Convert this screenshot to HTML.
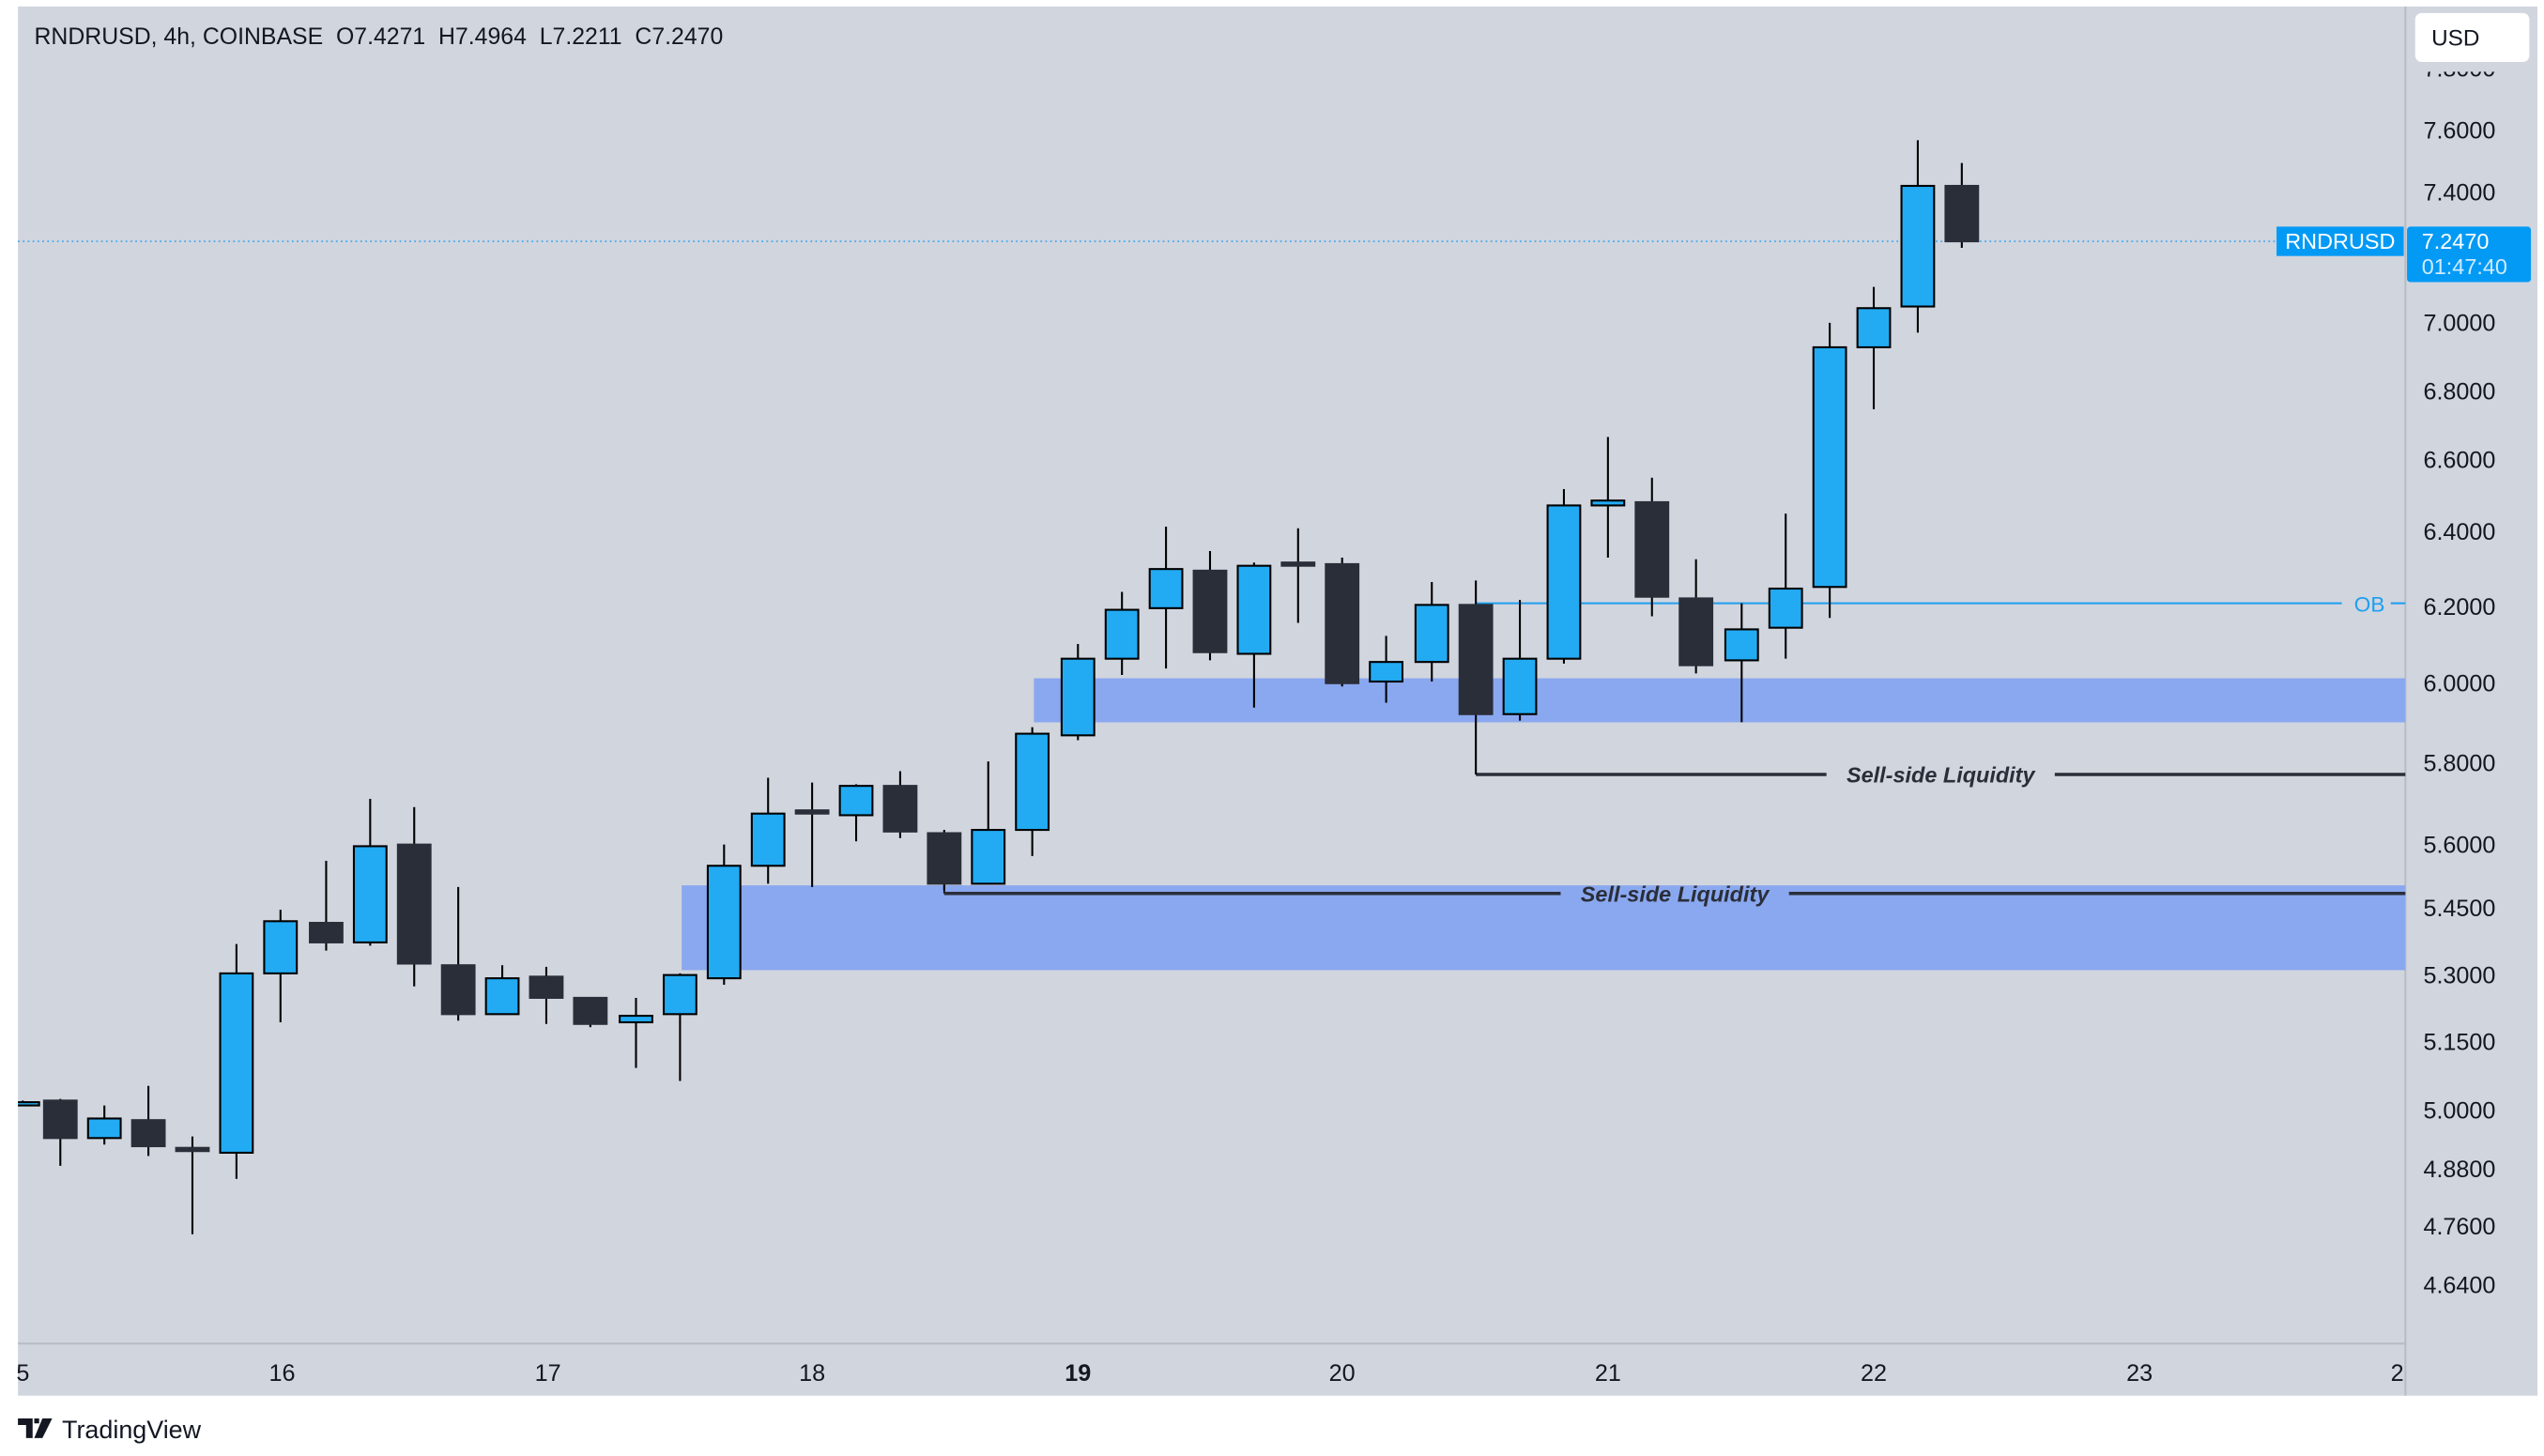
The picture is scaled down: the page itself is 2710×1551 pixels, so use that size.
<!DOCTYPE html>
<html><head><meta charset="utf-8"><style>
html,body{margin:0;padding:0;background:#fff;}
svg{display:block;}
text{font-family:"Liberation Sans",sans-serif;}
</style></head><body>
<svg width="2710" height="1551" viewBox="0 0 1560 893" preserveAspectRatio="none" xmlns="http://www.w3.org/2000/svg">
<defs><clipPath id="cp"><rect x="11" y="4" width="1464" height="820"/></clipPath></defs>
<rect x="0" y="0" width="1560" height="893" fill="#ffffff"/>
<rect x="11" y="4" width="1545" height="852" fill="#d1d5de"/>
<line x1="11" y1="824" x2="1475" y2="824" stroke="#b8bcc6" stroke-width="1.2"/>
<line x1="1475" y1="4" x2="1475" y2="856" stroke="#b8bcc6" stroke-width="1.2"/>

<rect x="634" y="416" width="841" height="27" fill="#8aa8ef"/>
<rect x="418" y="543" width="1057" height="52" fill="#8aa8ef"/>

<line x1="11" y1="148" x2="1395" y2="148" stroke="#1e9ff0" stroke-width="0.8" stroke-dasharray="1,2"/>

<line x1="905" y1="370" x2="1436" y2="370" stroke="#1e9ff0" stroke-width="1.2"/>
<line x1="1466" y1="370" x2="1475" y2="370" stroke="#1e9ff0" stroke-width="1.2"/>
<text x="1453" y="375" font-size="13" fill="#1e9ff0" text-anchor="middle">OB</text>

<line x1="905" y1="440" x2="905" y2="475" stroke="#000" stroke-width="1"/>
<line x1="905" y1="475" x2="1120" y2="475" stroke="#2a2e39" stroke-width="2"/>
<line x1="1260" y1="475" x2="1475" y2="475" stroke="#2a2e39" stroke-width="2"/>
<text x="1190" y="480" font-size="13.5" font-weight="bold" font-style="italic" fill="#2a2e39" text-anchor="middle">Sell-side Liquidity</text>
<line x1="579" y1="542" x2="579" y2="548" stroke="#000" stroke-width="1"/>
<line x1="579" y1="548" x2="957" y2="548" stroke="#2a2e39" stroke-width="2"/>
<line x1="1097" y1="548" x2="1475" y2="548" stroke="#2a2e39" stroke-width="2"/>
<text x="1027" y="553" font-size="13.5" font-weight="bold" font-style="italic" fill="#2a2e39" text-anchor="middle">Sell-side Liquidity</text>

<g id="candles" clip-path="url(#cp)"></g>

<text x="21" y="27" font-size="14.3" fill="#131722" xml:space="preserve">RNDRUSD, 4h, COINBASE  O7.4271  H7.4964  L7.2211  C7.2470</text>

<g font-size="14.5" fill="#131722">
<text x="1486" y="47">7.8000</text>
<text x="1486" y="85">7.6000</text>
<text x="1486" y="123">7.4000</text>
<text x="1486" y="203">7.0000</text>
<text x="1486" y="245">6.8000</text>
<text x="1486" y="287">6.6000</text>
<text x="1486" y="331">6.4000</text>
<text x="1486" y="377">6.2000</text>
<text x="1486" y="424">6.0000</text>
<text x="1486" y="473">5.8000</text>
<text x="1486" y="523">5.6000</text>
<text x="1486" y="562">5.4500</text>
<text x="1486" y="603">5.3000</text>
<text x="1486" y="644">5.1500</text>
<text x="1486" y="686">5.0000</text>
<text x="1486" y="722">4.8800</text>
<text x="1486" y="757">4.7600</text>
<text x="1486" y="793">4.6400</text>
</g>
<rect x="1478" y="38" width="74" height="6" fill="#d1d5de"/>
<rect x="1481" y="8" width="70" height="30" rx="4" fill="#fff"/>
<text x="1491" y="28" font-size="14" fill="#131722">USD</text>

<rect x="1396" y="139" width="78" height="18" fill="#039af5"/>
<text x="1435" y="152.5" font-size="13.5" fill="#fff" text-anchor="middle">RNDRUSD</text>
<rect x="1476" y="139" width="76" height="34" rx="2" fill="#039af5"/>
<text x="1485" y="152.5" font-size="13.5" fill="#fff">7.2470</text>
<text x="1485" y="168" font-size="13.5" fill="#cfeafe">01:47:40</text>

<g font-size="14.5" fill="#131722" text-anchor="middle">
<text x="14" y="847">5</text>
<text x="173" y="847">16</text>
<text x="336" y="847">17</text>
<text x="498" y="847">18</text>
<text x="661" y="847" font-weight="bold">19</text>
<text x="823" y="847">20</text>
<text x="986" y="847">21</text>
<text x="1149" y="847">22</text>
<text x="1312" y="847">23</text>
<text x="1470" y="847">2</text>
</g>

<path d="M11 870 h9 v12 h-4 v-8 h-5z M21 870 h3 v3 h-3z M26 870 h6 l-6 12 h-5z" fill="#131722"/>
<text x="38" y="882" font-size="15.5" fill="#131722">TradingView</text>
</svg>
<script>
var C=[
[14,675,676,677,678,'b'],
[37,674,675,698,715,'d'],
[64,678,686,698,702,'b'],
[91,666,687,703,709,'d'],
[118,697,704,706,757,'d'],
[145,579,597,707,723,'b'],
[172,558,565,597,627,'b'],
[200,528,566,578,583,'d'],
[227,490,519,578,580,'b'],
[254,495,518,591,605,'d'],
[281,544,592,622,626,'d'],
[308,592,600,622,622,'b'],
[335,593,599,612,628,'d'],
[362,612,612,628,630,'d'],
[390,612,623,627,655,'b'],
[417,597,598,622,663,'b'],
[444,518,531,600,604,'b'],
[471,477,499,531,542,'b'],
[498,480,497,499,544,'d'],
[525,481,482,500,516,'b'],
[552,473,482,510,514,'d'],
[579,509,511,542,546,'d'],
[606,467,509,542,542,'b'],
[633,446,450,509,525,'b'],
[661,395,404,451,454,'b'],
[688,363,374,404,414,'b'],
[715,323,349,373,410,'b'],
[742,338,350,400,405,'d'],
[769,345,347,401,434,'b'],
[796,324,345,347,382,'d'],
[823,342,346,419,421,'d'],
[850,390,406,418,431,'b'],
[878,357,371,406,418,'b'],
[905,356,371,438,475,'d'],
[932,368,404,438,442,'b'],
[959,300,310,404,407,'b'],
[986,268,307,310,342,'b'],
[1013,293,308,366,378,'d'],
[1040,343,367,408,413,'d'],
[1068,370,386,405,443,'b'],
[1095,315,361,385,404,'b'],
[1122,198,213,360,379,'b'],
[1149,176,189,213,251,'b'],
[1176,86,114,188,204,'b'],
[1203,100,114,148,152,'d']];
var g=document.getElementById('candles'),s='';
C.forEach(function(c){var x=c[0],w=20;
s+='<line x1="'+x+'" y1="'+c[1]+'" x2="'+x+'" y2="'+c[4]+'" stroke="#000" stroke-width="1.2"/>';
var h=Math.max(c[3]-c[2],2);
s+='<rect x="'+(x-w/2)+'" y="'+c[2]+'" width="'+w+'" height="'+h+'" fill="'+(c[5]=='b'?'#22abf3':'#2a2e39')+'" stroke="'+(c[5]=='b'?'#000':'#2a2e39')+'" stroke-width="1.2"/>';});
g.innerHTML=s;
</script>
</body></html>
